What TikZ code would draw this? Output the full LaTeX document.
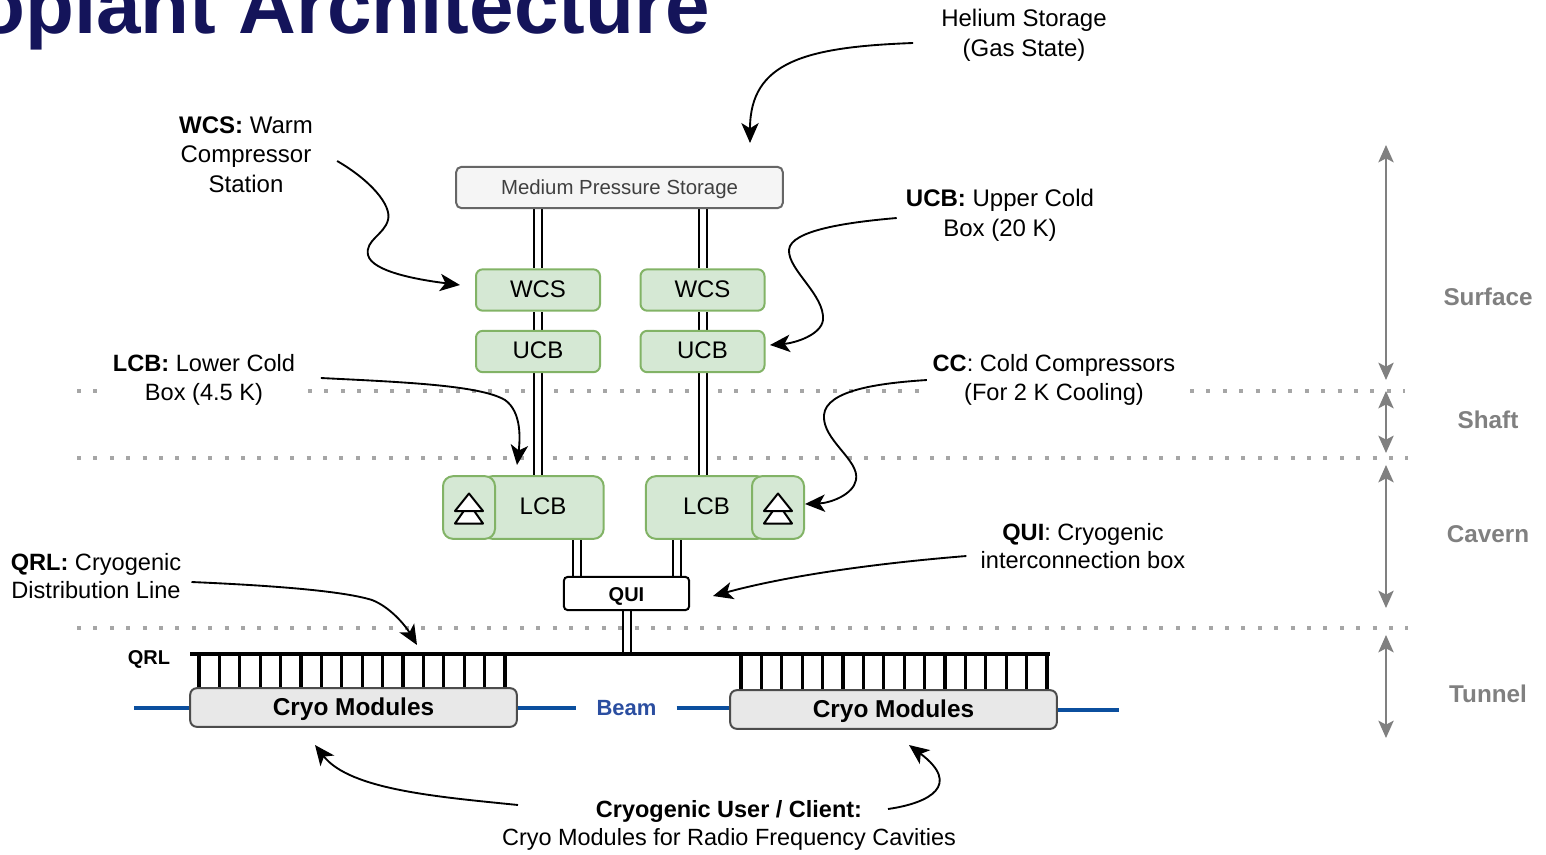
\documentclass[tikz,border=0pt]{standalone}
\usepackage{fontspec}
\setmainfont{Liberation Sans}
\usetikzlibrary{arrows.meta,backgrounds}
\definecolor{titleblue}{HTML}{14145A}
\definecolor{greenfill}{HTML}{D5E8D4}
\definecolor{greenline}{HTML}{82B366}
\definecolor{beamblue}{HTML}{0B4F9E}
\definecolor{beamtext}{HTML}{2B4EA0}
\begin{document}
\begin{tikzpicture}[x=0.75pt,y=-0.75pt,>={Stealth[length=15pt,width=13pt,inset=4pt]},
		label/.style={inner sep=0pt,align=center,font=\fontsize{18}{22.2}\selectfont},
		smalllabel/.style={inner sep=0pt,align=center,font=\fontsize{17.7}{21.2}\selectfont},
		layer/.style={inner sep=0pt,text=black!50,font=\fontsize{18.2}{22}\selectfont\bfseries},
		greenbox/.style={draw=greenline,fill=greenfill,line width=1.5pt,rounded corners=5pt,text height=12.9pt,font=\fontsize{18}{21.75}\selectfont},
		cold/.style={greenbox,text depth=2.3pt,minimum width=93pt,minimum height=31pt},
		lcbbox/.style={greenbox,text depth=2.4pt,rounded corners=7.5pt,minimum width=91pt,minimum height=47pt},
		compbox/.style={greenbox,rounded corners=7.5pt,minimum width=39pt,minimum height=47pt},
		cryo/.style={draw=black!70,fill=black!9,line width=1.5pt,rounded corners=5pt,minimum width=245pt,minimum height=29pt,text height=12.9pt,text depth=0.7pt,font=\fontsize{18.3}{21.75}\selectfont\bfseries},
		pipe/.style={double,line width=1.5pt,double distance=4.5pt},
		note/.style={->,line width=1.4pt},
		span/.style={<->,line width=1.5pt,black!50,>={Stealth[length=13pt,width=11.5pt,inset=3pt]}},
		dots/.style={black!35,line width=3pt,dash pattern=on 3pt off 9.3pt},
		beam/.style={beamblue,line width=2.3pt},
		rung/.style={line width=2.4pt}]
	\useasboundingbox (0,0) rectangle (1546,854);
	\clip (0,0) rectangle (1546,854);
	\node[anchor=base west,inner sep=0pt,text=titleblue,font=\fontsize{60}{60}\selectfont\bfseries] (title) at (-24,33) {oplant Architecture};
	% boxes
	\node[draw=black!60,fill=black!4,line width=1.5pt,rounded corners=4pt,minimum width=245pt,minimum height=31pt,text=black!75,text height=11pt,text depth=0.2pt,font=\fontsize{15.3}{18}\selectfont] (storage) at (619.5,187.5) {Medium Pressure Storage};
	\node[cold] (wcsa) at (538,290) {WCS};
	\node[cold] (wcsb) at (702.5,290) {WCS};
	\node[cold] (ucba) at (538,351.5) {UCB};
	\node[cold] (ucbb) at (702.5,351.5) {UCB};
	\node[lcbbox] (lcba) at (543,507.5) {LCB};
	\node[lcbbox] (lcbb) at (706.5,507.5) {LCB};
	\node[compbox] (compa) at (469,507.5) {};
	\node[compbox] (compb) at (778,507.5) {};
	\foreach \comp in {compa,compb}{
		\begin{scope}[shift={(\comp)}]
			\draw[fill=white,line width=1.5pt,line join=round] (0,-4) -- (14,16) -- (-14,16) -- cycle;
			\draw[fill=white,line width=1.5pt,line join=round] (0,-14) -- (14,3.5) -- (-14,3.5) -- cycle;
		\end{scope}
	}
	\node[draw,fill=white,line width=1.5pt,rounded corners=3pt,minimum width=94pt,minimum height=25pt,text height=11.5pt,text depth=0pt,font=\fontsize{15}{18}\selectfont\bfseries] (qui) at (626.5,593.5) {QUI};
	\node[cryo] (cma) at (353.5,707.5) {Cryo Modules};
	\node[cryo] (cmb) at (893.5,709.5) {Cryo Modules};
	\node[inner xsep=15pt,inner ysep=0pt,text=beamtext,font=\fontsize{16.5}{18}\selectfont\bfseries] (beamlabel) at (626.5,708) {Beam};
	\node[inner sep=0pt,font=\fontsize{15}{18}\selectfont\bfseries] (qrllabel) at (149,659) {QRL};
	% the pipes and the dotted levels stay behind the boxes
	\begin{pgfonlayer}{background}
		\draw[dots] (77,391) -- (98,391);
		\draw[dots] (308,391) -- (930,391);
		\draw[dots] (1190,391) -- (1405,391);
		\draw[dots] (77,458) -- (1408,458);
		\draw[dots] (77,628) -- (1408,628);
		\foreach \col in {a,b}{
			\draw[pipe] (wcs\col.north) -- (wcs\col.north |- storage.south);
			\draw[pipe] (ucb\col.north) -- (wcs\col.south);
			\draw[pipe] (ucb\col.south) -- (ucb\col.south |- lcb\col.north);
		}
		\draw[pipe] ([xshift=-37.5pt]qui.north) -- ([xshift=-37.5pt]qui.north |- lcba.south);
		\draw[pipe] ([xshift=37.5pt]qui.north) -- ([xshift=37.5pt]qui.north |- lcbb.south);
		\coordinate (qrlstart) at (190,654);
		\coordinate (qrlend) at (1050,654);
		\draw[pipe] (qui.south) -- (qui.south |- qrlstart);
		\foreach \i in {0,...,15}{
			\draw[rung] ({199+20.4*\i},654) -- ({199+20.4*\i},690);
			\draw[rung] ({741+20.4*\i},654) -- ({741+20.4*\i},692);
		}
	\end{pgfonlayer}
	\draw[line width=2.7pt] (qrlstart) -- (qrlend);
	% beam line
	\coordinate (beamin) at (134,708);
	\coordinate (beamout) at (1119,710);
	\draw[beam] (beamin) -- (cma.west |- beamin);
	\draw[beam] (cma.east |- beamlabel) -- (beamlabel.west);
	\draw[beam] (beamlabel.east) -- (cmb.west |- beamlabel);
	\draw[beam] (cmb.east |- beamout) -- (beamout);
	% labels
	\node[label] (heliumlabel) at (1024,35) {Helium Storage\\(Gas State)};
	\node[label] (wcslabel) at (246,154.5) {\textbf{WCS:} Warm\\Compressor\\Station};
	\node[label] (ucblabel) at (1000,215.5) {\textbf{UCB:} Upper Cold\\Box (20 K)};
	\node[smalllabel] (lcblabel) at (204,380) {\textbf{LCB:} Lower Cold\\Box (4.5 K)};
	\node[smalllabel] (cclabel) at (1054,380) {\textbf{CC}: Cold Compressors\\(For 2 K Cooling)};
	\node[smalllabel] (quilabel) at (1083,546) {\textbf{QUI}: Cryogenic\\interconnection box};
	\node[smalllabel] (qrlnote) at (96,576) {\textbf{QRL:} Cryogenic\\Distribution Line};
	\node[smalllabel,font=\fontsize{17.6}{21.2}\selectfont] (userlabel) at (729,825.5) {\textbf{Cryogenic User / Client:}\\Cryo Modules for Radio Frequency Cavities};
	% curved arrows
	\coordinate (heliumtip) at (750,143);
	\coordinate (wcstip) at (460,285);
	\coordinate (ucbtip) at (770,345);
	\coordinate (lcbtip) at (517,465);
	\coordinate (cctip) at (805,504);
	\coordinate (quitip) at (713,596);
	\coordinate (qrltip) at (417,645);
	\coordinate (usertipa) at (315,745);
	\coordinate (usertipb) at (909,745);
	\draw[note] ([shift={(-28,8)}]heliumlabel.west) .. controls (805,47) and (750,62) .. (heliumtip);
	\draw[note] ([shift={(24,6.5)}]wcslabel.east) .. controls (370,180) and (392,205) .. (388,220) .. controls (384,235) and (365,240) .. (368,255) .. controls (372,272) and (420,280) .. (wcstip);
	\draw[note] ([shift={(-9,2.5)}]ucblabel.west) .. controls (850,222) and (790,230) .. (789,250) .. controls (788,270) and (825,295) .. (823,320) .. controls (821,335) and (795,343) .. (ucbtip);
	\draw[note] ([shift={(25.5,-2)}]lcblabel.east) .. controls (400,382) and (480,385) .. (505,400) .. controls (522,412) and (520,440) .. (lcbtip);
	\draw[note] ([shift={(-5.5,0)}]cclabel.west) .. controls (880,383) and (826,390) .. (824,415) .. controls (822,440) and (860,460) .. (856,480) .. controls (853,495) and (830,503) .. (cctip);
	\draw[note] ([shift={(-14,10)}]quilabel.west) .. controls (880,563) and (790,575) .. (quitip);
	\draw[note] ([shift={(10,6)}]qrlnote.east) .. controls (260,585) and (340,590) .. (372,600) .. controls (390,607) and (405,625) .. (qrltip);
	\draw[note] ([shift={(-211,-20.5)}]userlabel.center) .. controls (440,797) and (350,790) .. (usertipa);
	\draw[note] ([shift={(159,-16.5)}]userlabel.center) .. controls (930,803) and (962,785) .. (usertipb);
	% levels on the right
	\foreach \level/\ytop/\ybot/\ytext in {Surface/145/380/297,Shaft/391/453/420,Cavern/465/608/534,Tunnel/635/738/694}{
		\node[layer] (\level) at (1488,\ytext) {\level};
		\coordinate (\level top) at (1386,\ytop);
		\coordinate (\level bottom) at (1386,\ybot);
		\draw[span] (\level top) -- (\level bottom);
	}
\end{tikzpicture}
\end{document}
